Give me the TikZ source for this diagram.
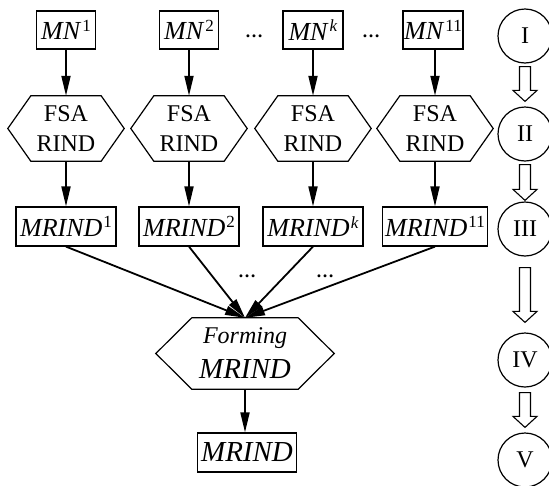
\documentclass[tikz,border=0pt]{standalone}
\usepackage{fontspec}
\setmainfont{Liberation Serif}
\usetikzlibrary{arrows.meta,calc}
\newcommand\supr[1]{\kern1pt\raisebox{8.5pt}{\fontsize{17}{17}\selectfont #1}}
\newcommand\hexpath[2]{%
  \draw[hexline] (#1.west) -- ([xshift=#2]#1.north west) -- ([xshift=-#2]#1.north east)
    -- (#1.east) -- ([xshift=-#2]#1.south east) -- ([xshift=#2]#1.south west) -- cycle;}
\newcommand\hollowarrow[4]{%
  \draw[hollow] let \p1=(#1.south), \p2=(#2.north) in
    (\x1-5.5pt,\y1-#3) -- (\x1+5.5pt,\y1-#3) -- (\x1+5.5pt,\y2+#4+11pt)
    -- (\x1+12pt,\y2+#4+11pt) -- (\x1,\y2+#4) -- (\x1-12pt,\y2+#4+11pt)
    -- (\x1-5.5pt,\y2+#4+11pt) -- cycle;}
\begin{document}
\begin{tikzpicture}[x=1pt,y=-1pt,
  box/.style={draw,line width=1.2pt,inner sep=0pt,minimum height=38pt,font=\fontsize{26}{28}\selectfont},
  hexnode/.style={inner sep=0pt,minimum width=116pt,minimum height=65pt,align=center,font=\fontsize{24}{30}\selectfont},
  hexline/.style={line width=1.2pt},
  hollow/.style={line width=1.1pt,fill=white},
  arr/.style={line width=1.8pt,-{Triangle[length=20pt,width=9pt]}},
  stage/.style={draw,circle,line width=1.2pt,minimum size=54pt,inner sep=0pt,font=\fontsize{24}{24}\selectfont},
  dots/.style={font=\fontsize{18}{18}\selectfont\bfseries,anchor=base,inner sep=0pt}]
\useasboundingbox (0,0) rectangle (549,485);

% top boxes
\node[box,minimum width=59pt] (mn1) at (66,30) {\textit{MN\/}\supr{1}};
\node[box,minimum width=59pt] (mn2) at (189,30) {\textit{MN\/}\supr{2}};
\node[box,minimum width=60pt] (mnk) at (313,30) {\textit{MN\/}\supr{\textit{k}}};
\node[box,minimum width=60pt] (mn11) at (433,30) {\textit{MN\/}\supr{11}};
\node[dots] (d1) at (254,37) {\ldots};
\node[dots] (d2) at (371,37) {\ldots};

% hexagons
\node[hexnode] (h1) at (66,128.5) {FSA\\RIND};
\node[hexnode] (h2) at (189,128.5) {FSA\\RIND};
\node[hexnode] (hk) at (313,128.5) {FSA\\RIND};
\node[hexnode] (h11) at (435,128.5) {FSA\\RIND};
\hexpath{h1}{23pt}\hexpath{h2}{23pt}\hexpath{hk}{23pt}\hexpath{h11}{23pt}

% MRIND boxes
\node[box,minimum width=100pt,minimum height=39pt] (r1) at (66,226.5) {\textit{MRIND\/}\supr{1}};
\node[box,minimum width=100pt,minimum height=39pt] (r2) at (189,226.5) {\textit{MRIND\/}\supr{2}};
\node[box,minimum width=100pt,minimum height=39pt] (rk) at (313,226.5) {\textit{MRIND\/}\supr{\textit{k}}};
\node[box,minimum width=105pt,minimum height=39pt] (r11) at (435,226.5) {\textit{MRIND\/}\supr{11}};
\node[dots] (d3) at (247,277) {\ldots};
\node[dots] (d4) at (325,277) {\ldots};

% forming
\node[hexnode,minimum width=178pt,minimum height=71pt,font=\fontsize{24}{35}\selectfont] (form) at (245,353.5)
  {\textit{Forming}\\{\fontsize{29}{35}\selectfont\textit{MRIND}}};
\hexpath{form}{36pt}
\node[box,minimum width=99pt,minimum height=39pt,font=\fontsize{29}{30}\selectfont] (fin) at (247,452.5) {\textit{MRIND}};

% arrows
\foreach \a/\b in {mn1/h1,mn2/h2,mnk/hk,h1/r1,h2/r2,hk/rk,h11/r11}
  \draw[arr] (\a.south) -- (\b.north);
\draw[arr] (mn11.south -| h11.north) -- (h11.north);
\foreach \a in {r1,r2,rk,r11}
  \draw[arr] (\a.south) -- (form.north);
\draw[arr] (form.south) -- (form.south |- fin.north);

% stages
\node[stage] (s1) at (525,36) {I};
\node[stage] (s2) at (525,134) {II};
\node[stage] (s3) at (525,229) {III};
\node[stage] (s4) at (525,360) {IV};
\node[stage] (s5) at (525,460) {V};
\hollowarrow{s1}{s2}{3pt}{5pt}
\hollowarrow{s2}{s3}{3pt}{1pt}
\hollowarrow{s3}{s4}{11pt}{10pt}
\hollowarrow{s4}{s5}{5pt}{5pt}
\end{tikzpicture}
\end{document}
